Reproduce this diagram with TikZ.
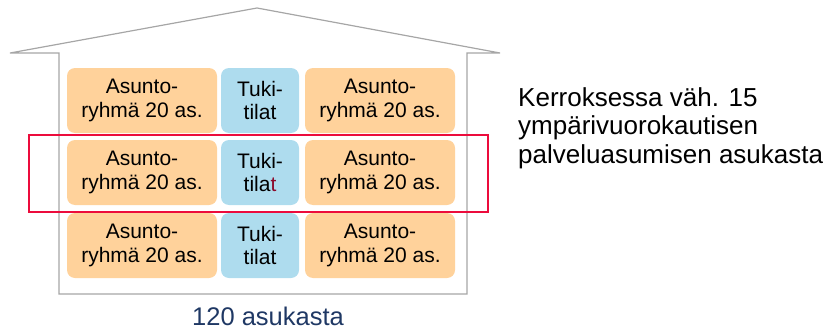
\documentclass[tikz,border=0pt]{standalone}
\usepackage{fontspec}
\setmainfont{Liberation Sans}
\definecolor{housegray}{HTML}{A6A6A6}
\definecolor{orangefill}{HTML}{FFD29B}
\definecolor{bluefill}{HTML}{AEDCEE}
\definecolor{redframe}{HTML}{EC0C3C}
\definecolor{darkredt}{HTML}{8B0A2A}
\definecolor{navytext}{HTML}{1F3864}
\begin{document}
\begin{tikzpicture}[x=1pt,y=-1pt,
  room/.style={rounded corners=8pt, minimum height=65pt, inner sep=0pt, align=center,
    font=\fontsize{21}{23.3}\selectfont, text=black},
  asunto/.style={room, fill=orangefill, minimum width=150pt},
  tuki/.style={room, fill=bluefill, minimum width=78pt},
  housestyle/.style={draw=housegray, line width=1.2pt, line join=miter},
  frame/.style={draw=redframe, line width=2.8pt}
]
\useasboundingbox (0,0) rectangle (824,329);
% house outline
\coordinate (rl) at (10,53);
\coordinate (apex) at (257,8);
\coordinate (rr) at (500,53);
\coordinate (wl) at (59,53);
\coordinate (wr) at (467,53);
\coordinate (bl) at (59,294);
\coordinate (br) at (467,294);
\draw[housestyle] (wl) -- (rl) -- (apex) -- (rr) -- (wr) -- (br) -- (bl) -- cycle;
% rooms
\foreach \r/\yc in {1/100.5, 2/172.5, 3/245.5}{
  \node[asunto] (a\r l) at (142,\yc) {Asunto-\\ryhmä 20 as.};
  \node[asunto] (a\r r) at (380,\yc) {Asunto-\\ryhmä 20 as.};
}
\node[tuki] (t1) at (260,100.5) {Tuki-\\tilat};
\node[tuki] (t2) at (260,172.5) {Tuki-\\tila\textcolor{darkredt}{t}};
\node[tuki] (t3) at (260,245.5) {Tuki-\\tilat};
% red frame
\coordinate (f1) at (29,135);
\coordinate (f2) at (488,212);
\draw[frame] (f1) rectangle (f2);
% labels
\node[anchor=base, font=\fontsize{25.5}{28}\selectfont, text=navytext, inner sep=0pt] (total) at (268,325) {120 asukasta};
\node[anchor=base west, align=left, font=\fontsize{26}{28.5}\selectfont, text=black, inner sep=0pt] (note) at (518,163.3)
  {Kerroksessa väh. 15\\ympärivuorokautisen\\palveluasumisen asukasta};
\end{tikzpicture}
\end{document}
